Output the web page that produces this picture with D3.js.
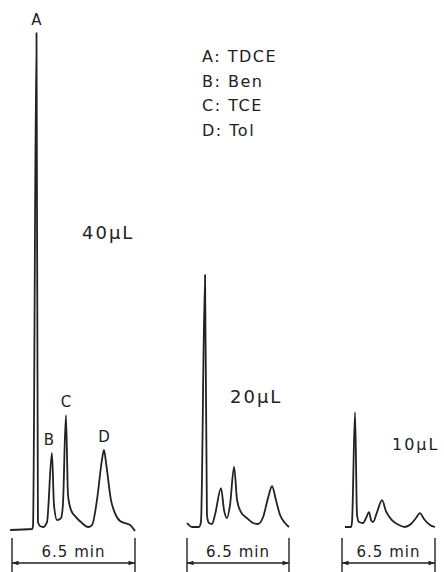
<!DOCTYPE html>
<html>
<head>
<meta charset="utf-8">
<script src="https://cdn.jsdelivr.net/npm/d3@7"></script>
<style>
  body { margin: 0; background: #fff; }
  svg text { font-family: "DejaVu Sans", sans-serif; fill: #222; }
</style>
</head>
<body>
<div id="chart"></div>
<script>
// retention time (min) and detector signal (arbitrary units, 100 = top of A at 40 uL)
const t40 = [-0.1, 1.06, 1.11, 1.295, 1.37, 1.48, 1.64, 1.85, 2.11, 2.22, 2.38, 2.59, 2.69, 2.85, 2.96, 3.12, 3.38, 3.70, 4.02, 4.23, 4.49, 4.75, 4.86, 4.97, 5.23, 5.44, 5.71, 5.97, 6.24, 6.5];
const s40 = [0, 0.2, 0.8, 100, 1.6, 0.8, 0.6, 1.6, 15.5, 5, 2.0, 2.4, 5, 23.1, 7, 4.0, 2.6, 1.4, 0.6, 1.0, 6, 14, 16.1, 13.5, 6, 3.4, 1.8, 1.4, 1.0, -0.2];

const t20 = [0, 0.32, 0.76, 0.89, 1.15, 1.27, 1.40, 1.59, 1.78, 2.17, 2.36, 2.55, 2.74, 3.0, 3.19, 3.44, 3.82, 4.21, 4.53, 4.85, 5.16, 5.42, 5.67, 5.93, 6.25, 6.5];
const s20 = [0.4, -0.4, -0.4, 0.6, 50.3, 2.0, 0.4, 0.2, 2, 7.4, 3, 1.4, 4, 11.7, 5, 2.6, 1.4, 0.4, 0.2, 1.6, 5.4, 7.8, 5, 2, 0.4, -0.4];

const t10 = [0.21, 0.63, 0.70, 0.91, 1.05, 1.19, 1.47, 1.68, 1.89, 2.03, 2.17, 2.45, 2.80, 3.07, 3.49, 3.98, 4.40, 4.82, 5.17, 5.45, 5.73, 6.15, 6.5];
const s10 = [0, 0, 1.0, 23.1, 2.4, 1.0, 0.8, 1.8, 3.0, 1.4, 1.0, 3, 5.4, 3.2, 1.4, 0.4, 0, 0.6, 1.8, 2.8, 1.6, 0.4, 0];

const volumes = ["40\u03bcL", "20\u03bcL", "10\u03bcL"];
const spanLabel = "6.5 min";
const spanMin = 6.5;

// peak labels on the 40 uL trace: letter and retention time
const peakNames = ["A", "B", "C", "D"];
const peakTimes = [1.295, 2.11, 2.85, 4.86];
const legendItems = ["A: TDCE", "B: Ben", "C: TCE", "D: Tol"];

const width = 444, height = 572;

const svg = d3.select("#chart").append("svg")
  .attr("width", width)
  .attr("height", height);

// layout for each run: horizontal extent of the 6.5 min bar and the baseline height
const panels = [
  {t: t40, s: s40, x0: 12, x1: 135, base: 530, label: volumes[0], lx: 82, ly: 239, fs: 18},
  {t: t20, s: s20, x0: 187, x1: 289, base: 525, label: volumes[1], lx: 230, ly: 403, fs: 18},
  {t: t10, s: s10, x0: 342, x1: 435, base: 527, label: volumes[2], lx: 392, ly: 450, fs: 16}
];

const defs = svg.append("defs");
defs.append("marker")
  .attr("id", "arr")
  .attr("viewBox", "0 0 10 10")
  .attr("refX", 10).attr("refY", 5)
  .attr("markerWidth", 7).attr("markerHeight", 5)
  .attr("orient", "auto-start-reverse")
  .append("path")
  .attr("d", "M0,1.5 L10,5 L0,8.5 Z")
  .attr("fill", "#222");

panels.forEach(p => {
  const x = d3.scaleLinear().domain([0, spanMin]).range([p.x0, p.x1]);
  const y = d3.scaleLinear().domain([0, 100]).range([p.base, p.base - 497]);
  const pts = p.t.map((d, i) => [d, p.s[i]]);

  const line = d3.line()
    .x(d => x(d[0]))
    .y(d => y(d[1]))
    .curve(d3.curveMonotoneX);

  const g = svg.append("g");

  g.append("path")
    .datum(pts)
    .attr("d", line)
    .attr("fill", "none")
    .attr("stroke", "#222")
    .attr("stroke-width", 1.8)
    .attr("stroke-linejoin", "round");

  // time bar under the trace
  g.selectAll(".tick-v")
    .data([0, spanMin])
    .join("line")
    .attr("x1", d => x(d)).attr("x2", d => x(d))
    .attr("y1", 538).attr("y2", 572)
    .attr("stroke", "#222")
    .attr("stroke-width", 1.4);

  g.append("line")
    .attr("x1", x(0)).attr("x2", x(spanMin))
    .attr("y1", 563).attr("y2", 563)
    .attr("stroke", "#222")
    .attr("stroke-width", 1.3)
    .attr("marker-start", "url(#arr)")
    .attr("marker-end", "url(#arr)");

  g.append("text")
    .attr("x", x(spanMin / 2))
    .attr("y", 557)
    .attr("text-anchor", "middle")
    .attr("font-size", 15)
    .attr("letter-spacing", 1)
    .text(spanLabel);

  g.append("text")
    .attr("x", p.lx)
    .attr("y", p.ly)
    .attr("font-size", p.fs)
    .attr("letter-spacing", 2)
    .text(p.label);

  if (p.t === t40) {
    g.selectAll(".peak")
      .data(peakNames)
      .join("text")
      .attr("x", (d, i) => x(peakTimes[i]) - (i === 1 ? 3 : 0))
      .attr("y", (d, i) => y(p.s[p.t.indexOf(peakTimes[i])]) - 8)
      .attr("text-anchor", "middle")
      .attr("font-size", 15)
      .text(d => d);
  }
});

svg.append("g")
  .selectAll("text")
  .data(legendItems)
  .join("text")
  .attr("x", 202)
  .attr("y", (d, i) => 62 + i * 24.7)
  .attr("font-size", 16)
  .attr("letter-spacing", 1.5)
  .text(d => d);
</script>
</body>
</html>
